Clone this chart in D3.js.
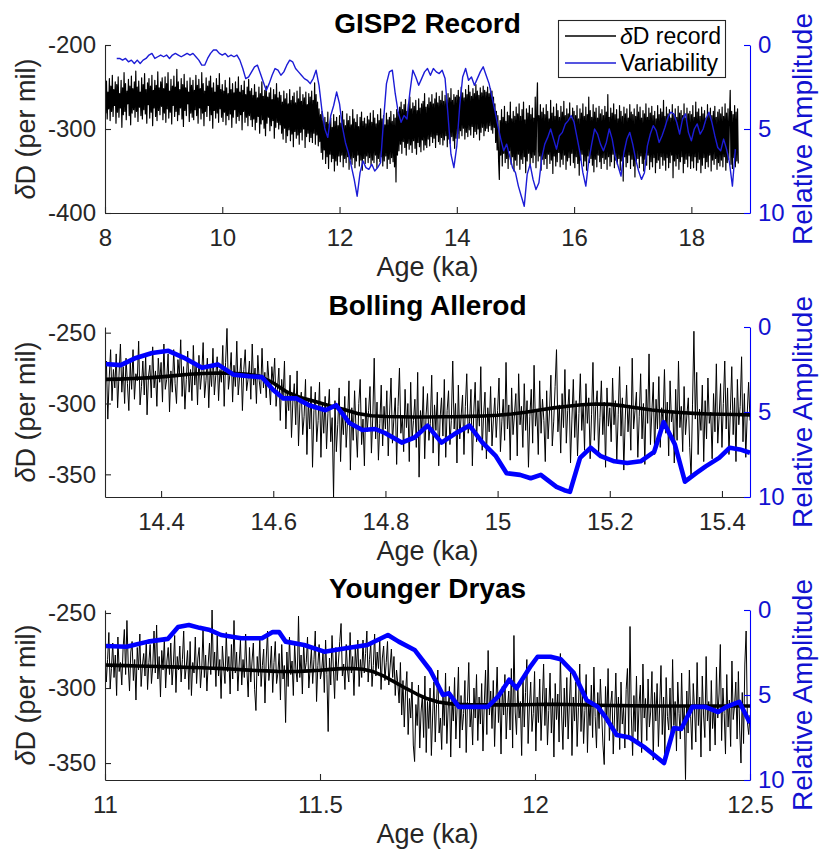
<!DOCTYPE html>
<html>
<head>
<meta charset="utf-8">
<script src="https://cdn.jsdelivr.net/npm/d3@7"></script>
<style>
  html, body { margin: 0; padding: 0; background: #fff; }
  svg { display: block; font-family: "Liberation Sans", Arial, Helvetica, sans-serif; }
</style>
</head>
<body>
<svg id="chart" width="822" height="854"></svg>
<script>
// ---------- GISP2 full record (8 - 18.8 ka), delta-D in per mil, 0.0125 ka spacing ----------
const gispStart = 8.0, gispStep = 0.0125;
const gispD = [
  // 8.0 - 8.5
  -250,-281,-243,-288,-256,-276,-240,-290,-249,-279,-236,-285,-253,-272,-244,-293,-247,-280,-238,-286,
  -258,-275,-242,-298,-251,-283,-233,-279,-246,-289,-255,-270,-241,-284,-249,-295,-237,-281,-252,-277,
  // 8.5 - 9.0
  -244,-286,-231,-279,-250,-291,-243,-274,-256,-284,-239,-288,-247,-277,-234,-282,-253,-293,-245,-271,
  -240,-287,-249,-280,-236,-296,-254,-275,-242,-285,-248,-290,-232,-278,-251,-283,-244,-273,-239,-289,
  // 9.0 - 9.5
  -252,-281,-238,-292,-246,-276,-233,-287,-255,-280,-241,-294,-249,-272,-237,-285,-250,-279,-229,-290,
  -244,-283,-253,-275,-240,-288,-247,-297,-235,-278,-251,-284,-243,-270,-256,-291,-239,-281,-248,-286,
  // 9.5 - 10.0
  -242,-289,-254,-277,-236,-284,-248,-293,-241,-275,-252,-288,-233,-281,-246,-296,-255,-279,-239,-285,
  -249,-272,-243,-290,-237,-283,-251,-299,-245,-278,-256,-287,-240,-281,-248,-292,-234,-276,-253,-286,
  // 10.0 - 10.5
  -247,-291,-255,-280,-242,-295,-251,-284,-258,-289,-239,-282,-253,-298,-246,-286,-257,-277,-244,-293,
  -252,-285,-238,-290,-256,-283,-248,-301,-254,-279,-243,-292,-259,-286,-250,-296,-241,-284,-255,-289,
  // 10.5 - 11.0
  -252,-297,-260,-288,-247,-301,-256,-292,-263,-285,-250,-305,-258,-294,-244,-289,-261,-299,-254,-308,
  -249,-293,-262,-286,-257,-302,-251,-296,-265,-290,-253,-311,-259,-298,-246,-292,-263,-300,-256,-295,
  // 11.0 - 11.5
  -260,-305,-268,-312,-255,-299,-264,-316,-258,-308,-270,-301,-253,-314,-266,-306,-261,-321,-257,-303,
  -269,-311,-255,-307,-264,-318,-250,-304,-267,-313,-259,-300,-263,-322,-256,-309,-271,-305,-258,-315,
  // 11.5 - 12.0
  -262,-310,-255,-316,-266,-305,-245,-318,-259,-307,-268,-320,-276,-315,-283,-328,-279,-336,-290,-325,
  -286,-341,-292,-333,-280,-347,-294,-330,-287,-339,-298,-335,-283,-350,-291,-338,-286,-343,-296,-332,
  // 12.0 - 12.5
  -284,-339,-293,-331,-279,-345,-289,-335,-296,-340,-282,-333,-290,-348,-285,-336,-295,-342,-277,-334,
  -288,-346,-292,-338,-283,-331,-297,-344,-286,-337,-280,-349,-291,-335,-287,-341,-294,-332,-285,-340,
  // 12.5 - 13.0
  -289,-334,-281,-343,-292,-337,-278,-340,-287,-331,-294,-346,-283,-335,-290,-339,-276,-333,-288,-344,
  -284,-338,-295,-332,-281,-347,-289,-336,-286,-341,-279,-334,-291,-339,-283,-345,-287,-363,-277,-331,
  // 13.0 - 13.5
  -280,-326,-274,-318,-268,-329,-277,-315,-271,-322,-265,-331,-279,-317,-270,-324,-262,-319,-276,-328,
  -269,-314,-273,-323,-266,-330,-278,-316,-264,-321,-275,-327,-270,-313,-267,-325,-258,-319,-274,-322,
  // 13.5 - 14.0
  -271,-312,-263,-320,-268,-309,-259,-316,-270,-311,-264,-322,-257,-307,-269,-315,-261,-318,-266,-310,
  -255,-319,-267,-313,-260,-308,-265,-321,-258,-312,-263,-317,-252,-309,-266,-314,-259,-323,-262,-311,
  // 14.0 - 14.5
  -260,-306,-254,-311,-262,-302,-250,-308,-257,-299,-263,-312,-253,-304,-259,-309,-248,-301,-256,-307,
  -261,-297,-252,-310,-258,-303,-247,-306,-255,-300,-260,-313,-251,-304,-257,-298,-249,-308,-254,-302,
  // 14.5 - 15.0
  -256,-299,-250,-303,-258,-296,-252,-301,-255,-305,-262,-298,-270,-316,-279,-325,-284,-338,-360,-290,
  -331,-277,-344,-286,-329,-273,-340,-291,-335,-280,-347,-284,-326,-268,-342,-288,-333,-279,-350,-285,
  // 15.0 - 15.5
  -337,-274,-343,-282,-330,-270,-348,-285,-336,-277,-341,-268,-333,-289,-352,-276,-338,-281,-329,-272,
  -345,-283,-334,-275,-340,-287,-331,-262,-346,-279,-245,-338,-284,-332,-271,-349,-280,-336,-275,-342,
  // 15.5 - 16.0
  -283,-335,-271,-347,-279,-330,-288,-341,-266,-337,-281,-353,-274,-332,-285,-344,-270,-339,-278,-328,
  -286,-345,-273,-336,-280,-342,-267,-331,-284,-348,-276,-338,-282,-334,-269,-343,-287,-329,-275,-340,
  // 16.0 - 16.5
  -279,-346,-284,-333,-272,-341,-288,-355,-276,-337,-281,-330,-270,-344,-285,-338,-274,-349,-283,-332,
  -262,-340,-278,-335,-286,-343,-271,-351,-280,-336,-275,-345,-287,-331,-273,-339,-282,-347,-277,-334,
  // 16.5 - 17.0
  -284,-341,-273,-336,-280,-348,-259,-333,-286,-344,-275,-339,-281,-330,-270,-346,-283,-337,-277,-342,
  -288,-335,-272,-349,-279,-338,-285,-362,-274,-333,-282,-345,-276,-340,-287,-331,-271,-347,-280,-336,
  // 17.0 - 17.5
  -283,-344,-276,-357,-285,-338,-271,-335,-280,-346,-274,-332,-287,-341,-278,-350,-282,-336,-270,-343,
  -286,-331,-275,-348,-281,-339,-273,-345,-284,-334,-279,-352,-288,-340,-272,-337,-283,-347,-276,-333,
  // 17.5 - 18.0
  -280,-343,-266,-337,-285,-349,-274,-334,-282,-346,-277,-340,-287,-331,-271,-358,-283,-338,-276,-344,
  -286,-335,-273,-348,-281,-339,-278,-333,-284,-352,-270,-341,-287,-336,-275,-345,-282,-332,-279,-347,
  // 18.0 - 18.5
  -283,-338,-272,-346,-286,-333,-268,-349,-280,-340,-276,-336,-285,-352,-274,-343,-282,-334,-278,-347,
  -287,-339,-271,-345,-281,-331,-275,-350,-284,-337,-279,-342,-273,-335,-286,-348,-280,-340,-277,-344,
  // 18.5 - 18.8
  -282,-337,-274,-345,-285,-333,-270,-349,-281,-340,-276,-336,-287,-254,-342,-279,-347,-283,-334,-272,
  -345,-280,-338,-276,-341
];

// Variability (relative amplitude, 0-10) for the full record, 0.05 ka spacing from 8.2 ka
const gispVarStart = 8.2, gispVarStep = 0.05;
const gispVar = [
  0.8,0.8,0.9,0.8,1.0,0.9,1.1,0.9,1.1,0.9,
  0.8,0.6,0.5,0.8,0.7,0.6,0.7,0.6,0.8,0.6,
  0.5,0.6,0.7,0.6,0.5,0.6,0.5,0.7,0.9,1.2,
  1.2,0.8,0.5,0.3,0.3,0.5,0.6,0.5,0.7,0.6,
  0.7,0.6,0.9,1.4,2.0,1.9,1.6,1.3,1.2,1.7,
  2.2,2.7,2.3,1.8,1.4,1.5,1.8,1.6,1.2,0.9,
  1.0,1.4,1.6,1.8,2.0,2.1,2.3,2.0,1.5,2.4,
  3.9,5.0,5.5,4.2,3.6,2.8,3.5,4.9,5.8,6.4,
  7.2,8.0,9.0,7.6,6.9,7.3,7.4,7.1,7.5,7.3,
  7.0,4.5,2.3,1.6,1.5,2.9,4.0,4.6,4.2,4.4,
  2.8,1.5,1.9,2.4,2.0,1.6,1.4,1.8,1.4,1.6,
  1.7,1.5,2.0,4.2,6.5,7.3,6.0,3.6,1.9,1.4,
  2.1,1.9,2.4,2.0,1.6,1.3,1.8,2.3,3.1,3.9,
  4.8,5.6,6.3,5.9,6.6,7.3,7.6,8.4,9.0,9.6,
  7.7,7.1,8.0,8.6,8.2,6.7,5.9,5.5,5.0,5.6,
  6.2,5.4,5.2,4.7,4.5,4.2,4.6,5.5,6.4,7.6,
  8.4,6.9,5.9,5.0,5.3,5.9,6.3,5.8,5.0,5.6,
  6.6,7.2,7.8,6.4,5.6,5.2,5.9,6.8,7.5,8.0,
  7.6,6.0,5.3,4.8,5.1,5.8,5.4,4.9,4.3,4.0,
  4.1,4.6,5.3,4.4,4.1,5.2,5.7,5.0,4.7,5.3,
  5.0,4.4,4.0,4.6,5.4,6.1,6.3,5.6,6.2,7.0,
  8.4,6.2
];

// ---------- Bolling Allerod (14.3 - 15.45 ka), 0.0025 ka spacing ----------
const baStart = 14.3, baStep = 0.0025;
const baD = [
  // 14.3
  -295,-270,-311,-282,-262,-298,-276,-289,-265,-303,-280,-258,-292,-274,-300,-268,-286,-305,-271,-290,
  -262,-297,-279,-284,-256,-301,-288,-270,-294,-266,-308,-281,-273,-296,-260,-289,-277,-302,-268,-285,
  // 14.4
  -271,-299,-258,-290,-283,-265,-306,-277,-292,-262,-286,-300,-269,-281,-255,-295,-274,-304,-283,-263,
  -292,-276,-298,-259,-287,-272,-301,-266,-290,-279,-257,-296,-284,-268,-303,-275,-288,-261,-294,-280,
  // 14.5
  -267,-298,-276,-285,-259,-302,-271,-247,-290,-280,-264,-299,-273,-288,-256,-294,-281,-268,-305,-276,
  -262,-291,-283,-270,-297,-258,-287,-275,-300,-266,-284,-293,-261,-289,-278,-296,-270,-285,-301,-274,
  // 14.6
  -286,-268,-302,-290,-275,-312,-283,-296,-270,-318,-291,-305,-280,-324,-298,-286,-315,-277,-330,-301,
  -292,-322,-309,-283,-336,-298,-318,-288,-345,-305,-292,-327,-312,-285,-338,-300,-321,-295,-332,-307,
  // 14.7
  -290,-327,-310,-366,-298,-334,-315,-289,-341,-306,-322,-295,-331,-312,-284,-347,-303,-326,-291,-318,
  -338,-300,-283,-329,-311,-344,-296,-320,-305,-288,-335,-309,-268,-325,-299,-340,-314,-287,-330,-302,
  // 14.8
  -318,-291,-337,-306,-282,-328,-311,-296,-343,-302,-275,-321,-309,-334,-290,-317,-300,-341,-285,-326,
  -312,-297,-331,-278,-352,-305,-320,-288,-339,-308,-293,-326,-314,-280,-335,-301,-319,-292,-344,-310,
  // 14.9
  -296,-323,-283,-338,-305,-291,-329,-312,-270,-318,-300,-342,-287,-325,-309,-294,-336,-302,-279,-321,
  -313,-290,-344,-306,-285,-327,-298,-316,-274,-333,-308,-292,-339,-303,-320,-288,-330,-311,-296,-324,
  // 15.0
  -305,-282,-334,-313,-297,-326,-271,-318,-301,-340,-289,-322,-308,-293,-337,-279,-315,-302,-331,-286,
  -319,-298,-345,-309,-290,-328,-273,-316,-304,-336,-284,-321,-297,-312,-341,-291,-325,-306,-280,-330,
  // 15.1
  -313,-288,-262,-320,-301,-335,-293,-317,-276,-328,-305,-290,-342,-311,-283,-324,-298,-337,-307,-279,
  -319,-300,-333,-286,-314,-296,-339,-308,-271,-326,-302,-291,-336,-310,-284,-322,-299,-345,-289,-316,
  // 15.2
  -303,-327,-282,-315,-298,-340,-308,-274,-323,-296,-347,-311,-287,-320,-301,-333,-268,-318,-305,-292,
  -338,-309,-279,-325,-300,-343,-290,-314,-265,-329,-306,-285,-336,-297,-318,-281,-331,-303,-312,-276,
  // 15.3
  -321,-299,-337,-284,-313,-305,-342,-290,-326,-270,-317,-302,-334,-288,-322,-308,-296,-331,-352,-301,
  -249,-311,-278,-336,-304,-319,-287,-341,-298,-325,-282,-314,-306,-339,-293,-320,-272,-328,-309,-286,
  // 15.4 - 15.45
  -331,-300,-270,-318,-289,-336,-305,-274,-322,-296,-341,-283,-315,-302,-267,-327,-293,-338,-308,-285,
  -312
];
// smoothed delta-D, 0.025 ka spacing
const baSmoothStep = 0.025;
const baSmooth = [
  -283.0,-282.8,-282.4,-281.9,-281.2,-280.3,-279.4,-278.8,-278.5,-278.6,
  -279.2,-280.6,-285.5,-292.0,-296.0,-298.6,-301.5,-304.0,-307.0,-308.6,
  -309.2,-309.4,-309.5,-309.5,-309.4,-309.3,-309.1,-308.8,-308.3,-307.4,
  -306.2,-304.6,-303.1,-301.9,-300.9,-300.3,-300.6,-301.7,-303.2,-304.6,
  -305.6,-306.4,-307.0,-307.4,-307.6,-307.8,-308.0
];
const baVarAge = [
  14.300,14.328,14.355,14.384,14.413,14.440,14.473,14.501,14.529,14.557,
  14.580,14.600,14.618,14.641,14.664,14.693,14.712,14.736,14.759,14.782,
  14.800,14.829,14.852,14.875,14.900,14.923,14.950,14.973,14.997,15.016,
  15.040,15.059,15.077,15.105,15.119,15.129,15.147,15.166,15.184,15.208,
  15.231,15.255,15.279,15.296,15.316,15.334,15.354,15.371,15.395,15.414,
  15.432,15.450
];
const baVar = [
  2.18,2.24,1.82,1.53,1.40,1.80,2.40,2.20,2.80,2.90,
  2.95,3.70,4.20,4.20,4.60,4.90,4.60,5.65,6.06,6.00,
  6.25,6.80,6.50,5.80,6.80,6.30,5.80,6.80,7.60,8.60,
  8.70,8.90,8.70,9.40,9.60,9.70,7.70,7.10,7.60,7.90,
  8.00,7.90,7.35,5.60,6.90,9.10,8.60,8.20,7.70,7.10,
  7.20,7.40
];

// ---------- Younger Dryas (11 - 12.5 ka), 0.003 ka spacing ----------
const ydStart = 11.0, ydStep = 0.003;
const ydD = [
  // 11.00
  -272,-296,-281,-263,-300,-287,-270,-293,-278,-305,-266,-289,-283,-298,-274,-261,-291,-255,-284,-302,
  -276,-269,-295,-281,-308,-273,-288,-264,-299,-285,-277,-292,-268,-301,-283,-271,-297,-286,-262,-290,
  -258,-294,-279,-306,-275,-288,-267,-300,-282,-273,
  // 11.15
  -291,-270,-298,-284,-265,-303,-279,-288,-272,-296,-281,-262,-294,-286,-275,-301,-269,-305,-283,-290,
  -266,-297,-280,-273,-300,-287,-261,-293,-278,-302,-284,-270,-291,-248,-288,-276,-299,-265,-292,-281,
  -307,-272,-286,-297,-263,-289,-279,-304,-271,-294,
  // 11.30
  -255,-290,-276,-302,-284,-268,-298,-281,-293,-264,-288,-306,-273,-296,-282,-270,-301,-315,-279,-292,
  -267,-299,-285,-274,-310,-280,-262,-295,-287,-272,-303,-283,-269,-297,-290,-277,-308,-271,-294,-285,
  -323,-276,-299,-266,-291,-282,-305,-270,-288,-296,
  // 11.45
  -252,-293,-278,-304,-270,-289,-283,-266,-300,-287,-274,-297,-281,-262,-309,-285,-271,-294,-288,-276,
  -303,-268,-291,-329,-280,-298,-265,-286,-307,-273,-295,-282,-269,-257,-292,-284,-301,-271,-288,-296,
  -263,-290,-279,-305,-274,-287,-268,-299,-281,-293,
  // 11.60
  -268,-290,-277,-262,-296,-281,-270,-299,-285,-264,-292,-276,-287,-267,-301,-280,-272,-295,-283,-269,
  -298,-286,-274,-293,-279,-305,-288,-297,-310,-283,-318,-295,-326,-302,-289,-331,-307,-320,-296,-338,
  -349,-311,-325,-298,-340,-316,-305,-333,-292,-343,
  // 11.75
  -309,-327,-300,-345,-318,-296,-336,-311,-288,-330,-320,-341,-303,-325,-290,-337,-314,-299,-346,-308,
  -322,-293,-334,-312,-286,-340,-305,-328,-317,-295,-343,-309,-283,-326,-314,-338,-300,-320,-291,-335,
  -306,-324,-297,-342,-311,-288,-331,-275,-318,-302,
  // 11.90
  -327,-295,-339,-310,-286,-323,-305,-344,-299,-318,-291,-334,-313,-302,-328,-287,-340,-265,-316,-331,
  -298,-320,-309,-345,-292,-326,-303,-281,-337,-312,-296,-329,-317,-289,-342,-306,-323,-294,-335,-311,
  -284,-325,-300,-338,-315,-290,-330,-307,-346,-297,
  // 12.05
  -321,-304,-336,-277,-318,-341,-300,-326,-293,-334,-310,-288,-345,-306,-322,-296,-339,-313,-284,-329,
  -302,-337,-315,-291,-343,-308,-325,-298,-333,-286,-319,-340,-303,-327,-294,-316,-338,-351,-299,-323,
  -287,-335,-311,-302,-344,-318,-290,-329,-306,-341,
  // 12.20
  -296,-324,-313,-340,-301,-287,-333,-259,-318,-345,-305,-329,-292,-337,-311,-298,-343,-284,-320,-307,
  -335,-294,-326,-316,-289,-348,-303,-322,-297,-339,-312,-285,-331,-306,-344,-293,-319,-328,-300,-336,
  -281,-325,-309,-342,-296,-317,-334,-290,-327,-313,
  // 12.35 - 12.5
  -361,-302,-330,-288,-319,-341,-297,-314,-336,-283,-325,-306,-346,-292,-318,-333,-279,-322,-309,-342,
  -295,-327,-312,-338,-286,-320,-304,-271,-335,-300,-317,-344,-291,-326,-308,-339,-282,-321,-312,-296,
  -334,-289,-328,-350,-303,-337,-284,-262,-323,-331,
  -318
];
const ydSmoothStep = 0.025;
const ydSmooth = [
  -284.7,-284.9,-285.1,-285.3,-285.5,-285.7,-285.9,-286.1,-286.3,-286.5,
  -286.8,-287.1,-287.5,-287.9,-288.3,-288.6,-288.9,-289.0,-288.9,-288.6,
  -288.2,-287.6,-287.1,-287.0,-287.5,-289.2,-292.3,-296.2,-300.3,-304.0,
  -307.2,-309.3,-310.4,-310.9,-311.1,-311.2,-311.2,-311.2,-311.2,-311.1,
  -311.0,-310.9,-310.9,-311.0,-311.1,-311.3,-311.5,-311.6,-311.7,-311.8,
  -311.9,-312.0,-312.0,-312.0,-312.0,-312.0,-312.0,-312.0,-312.0,-312.0,
  -312.0
];
const ydVarAge = [
  11.000,11.050,11.100,11.146,11.170,11.195,11.220,11.244,11.270,11.317,
  11.365,11.390,11.405,11.420,11.463,11.510,11.560,11.610,11.658,11.683,
  11.720,11.756,11.786,11.800,11.823,11.853,11.890,11.914,11.940,11.957,
  11.975,11.990,12.006,12.036,12.060,12.090,12.120,12.146,12.164,12.190,
  12.220,12.256,12.300,12.323,12.340,12.366,12.396,12.426,12.445,12.475,
  12.500
];
const ydVar = [
  2.12,2.16,1.86,1.70,1.00,0.88,1.05,1.18,1.47,1.66,
  1.66,1.30,1.30,1.86,2.06,2.45,2.25,2.06,1.47,1.86,
  2.35,3.53,5.00,4.90,5.70,5.70,5.70,5.10,4.10,4.60,
  3.90,3.30,2.75,2.75,2.90,3.70,5.30,5.70,6.30,7.35,
  7.50,8.10,9.00,6.95,7.00,5.70,5.70,6.00,5.70,5.40,
  6.65
];

// ---------- tick labels ----------
const gispAgeTicks = [8, 10, 12, 14, 16, 18];
const gispDTicks = [-400, -300, -200];
const baAgeTicks = [14.4, 14.6, 14.8, 15, 15.2, 15.4];
const baDTicks = [-350, -300, -250];
const ydAgeTicks = [11, 11.5, 12, 12.5];
const ydDTicks = [-350, -300, -250];
const ampTicks = [0, 5, 10];

// ---------- drawing ----------
const AXIS = "#262626", BLUE = "#0000ff", BLUE_TEXT = "#1212d0";
const L = 105, R = 750;
const TICK_FONT = "24px", LABEL_FONT = "27px";
const svg = d3.select("#chart");
const seq = (start, step, vals) => vals.map((v, i) => [start + i * step, v]);

function drawPanel(p) {
  const x = d3.scaleLinear().domain(p.xDomain).range([L, R]);
  const y = d3.scaleLinear().domain(p.yDomain).range([p.bottom, p.top]);
  const yr = d3.scaleLinear().domain([0, 10]).range([p.top, p.bottom]);
  const line = d3.line().x(d => x(d[0])).y(d => y(d[1]));
  const lineR = d3.line().x(d => x(d[0])).y(d => yr(d[1]));

  svg.append("clipPath").attr("id", "clip-" + p.id)
    .append("rect").attr("x", L).attr("y", p.top - 1)
    .attr("width", R - L).attr("height", p.bottom - p.top + 2);
  const plot = svg.append("g").attr("clip-path", `url(#clip-${p.id})`);

  plot.append("path").datum(p.record).attr("d", line)
    .attr("fill", "none").attr("stroke", "#000")
    .attr("stroke-width", p.recordWidth).attr("stroke-linejoin", "round");
  if (p.smooth) {
    plot.append("path").datum(p.smooth).attr("d", line)
      .attr("fill", "none").attr("stroke", "#000")
      .attr("stroke-width", 3.6).attr("stroke-linejoin", "round");
  }
  plot.append("path").datum(p.variability).attr("d", lineR)
    .attr("fill", "none").attr("stroke", p.varColor)
    .attr("stroke-width", p.varWidth).attr("stroke-linejoin", "round");

  // bottom axis
  const gx = svg.append("g").attr("transform", `translate(0,${p.bottom})`)
    .call(d3.axisBottom(x).tickValues(p.xTicks).tickFormat(d => d)
      .tickSizeInner(-6).tickSizeOuter(0));
  gx.selectAll("text").attr("y", 33).attr("dy", null);
  // left axis
  const gy = svg.append("g").attr("transform", `translate(${L},0)`)
    .call(d3.axisLeft(y).tickValues(p.yTicks).tickFormat(d => d)
      .tickSizeInner(-6).tickSizeOuter(0).tickPadding(9));
  // right axis
  const gr = svg.append("g").attr("transform", `translate(${R},0)`)
    .call(d3.axisRight(yr).tickValues(ampTicks).tickFormat(d => d)
      .tickSizeInner(-6).tickSizeOuter(0).tickPadding(8));

  [gx, gy].forEach(g => {
    g.selectAll("path, line").attr("stroke", AXIS).attr("stroke-width", 1.1);
    g.selectAll("text").attr("fill", AXIS).style("font-size", TICK_FONT);
  });
  gr.selectAll("path, line").attr("stroke", BLUE).attr("stroke-width", 1.1);
  gr.selectAll("text").attr("fill", BLUE_TEXT).style("font-size", TICK_FONT);

  const midY = (p.top + p.bottom) / 2;
  // titles and axis labels
  svg.append("text").attr("x", (L + R) / 2).attr("y", p.top - 12)
    .attr("text-anchor", "middle").attr("font-weight", "bold")
    .style("font-size", "28px").attr("fill", "#000").text(p.title);
  svg.append("text").attr("x", (L + R) / 2).attr("y", p.bottom + 63)
    .attr("text-anchor", "middle").style("font-size", LABEL_FONT).attr("fill", AXIS)
    .text("Age (ka)");
  const yl = svg.append("text").attr("transform", `translate(35,${midY}) rotate(-90)`)
    .attr("text-anchor", "middle").style("font-size", LABEL_FONT).attr("fill", AXIS);
  yl.append("tspan").attr("font-style", "italic").text("δ");
  yl.append("tspan").text("D (per mil)");
  svg.append("text").attr("transform", `translate(812,${midY}) rotate(-90)`)
    .attr("text-anchor", "middle").style("font-size", "28px").attr("fill", BLUE_TEXT)
    .text("Relative Amplitude");

  if (p.legend) {
    const lg = svg.append("g");
    lg.append("rect").attr("x", 558.5).attr("y", 20.5).attr("width", 167).attr("height", 57)
      .attr("fill", "#fff").attr("stroke", AXIS).attr("stroke-width", 1.1);
    const items = [
      { label: ["δ", "D record"], color: "#000", y: 36 },
      { label: [null, "Variability"], color: p.varColor, y: 63 }
    ];
    items.forEach(it => {
      lg.append("line").attr("x1", 565).attr("x2", 616).attr("y1", it.y).attr("y2", it.y)
        .attr("stroke", it.color).attr("stroke-width", 1.4);
      const t = lg.append("text").attr("x", 620).attr("y", it.y + 8)
        .style("font-size", "23px").attr("fill", "#000");
      if (it.label[0]) t.append("tspan").attr("font-style", "italic").text(it.label[0]);
      t.append("tspan").text(it.label[1]);
    });
  }
}

drawPanel({
  id: "gisp", title: "GISP2 Record", top: 45, bottom: 213,
  xDomain: [8, 19], yDomain: [-400, -200],
  xTicks: gispAgeTicks, yTicks: gispDTicks,
  record: seq(gispStart, gispStep, gispD), recordWidth: 1.2,
  variability: seq(gispVarStart, gispVarStep, gispVar),
  varColor: "#1c1cd6", varWidth: 1.4, legend: true
});
drawPanel({
  id: "ba", title: "Bolling Allerod", top: 327, bottom: 497,
  xDomain: [14.3, 15.45], yDomain: [-366, -246],
  xTicks: baAgeTicks, yTicks: baDTicks,
  record: seq(baStart, baStep, baD), recordWidth: 1.0,
  smooth: seq(baStart, baSmoothStep, baSmooth),
  variability: baVarAge.map((a, i) => [a, baVar[i]]),
  varColor: BLUE, varWidth: 4.6
});
drawPanel({
  id: "yd", title: "Younger Dryas", top: 610, bottom: 780,
  xDomain: [11, 12.5], yDomain: [-361.3, -248],
  xTicks: ydAgeTicks, yTicks: ydDTicks,
  record: seq(ydStart, ydStep, ydD), recordWidth: 1.0,
  smooth: seq(ydStart, ydSmoothStep, ydSmooth),
  variability: ydVarAge.map((a, i) => [a, ydVar[i]]),
  varColor: BLUE, varWidth: 4.6
});
</script>
</body>
</html>
